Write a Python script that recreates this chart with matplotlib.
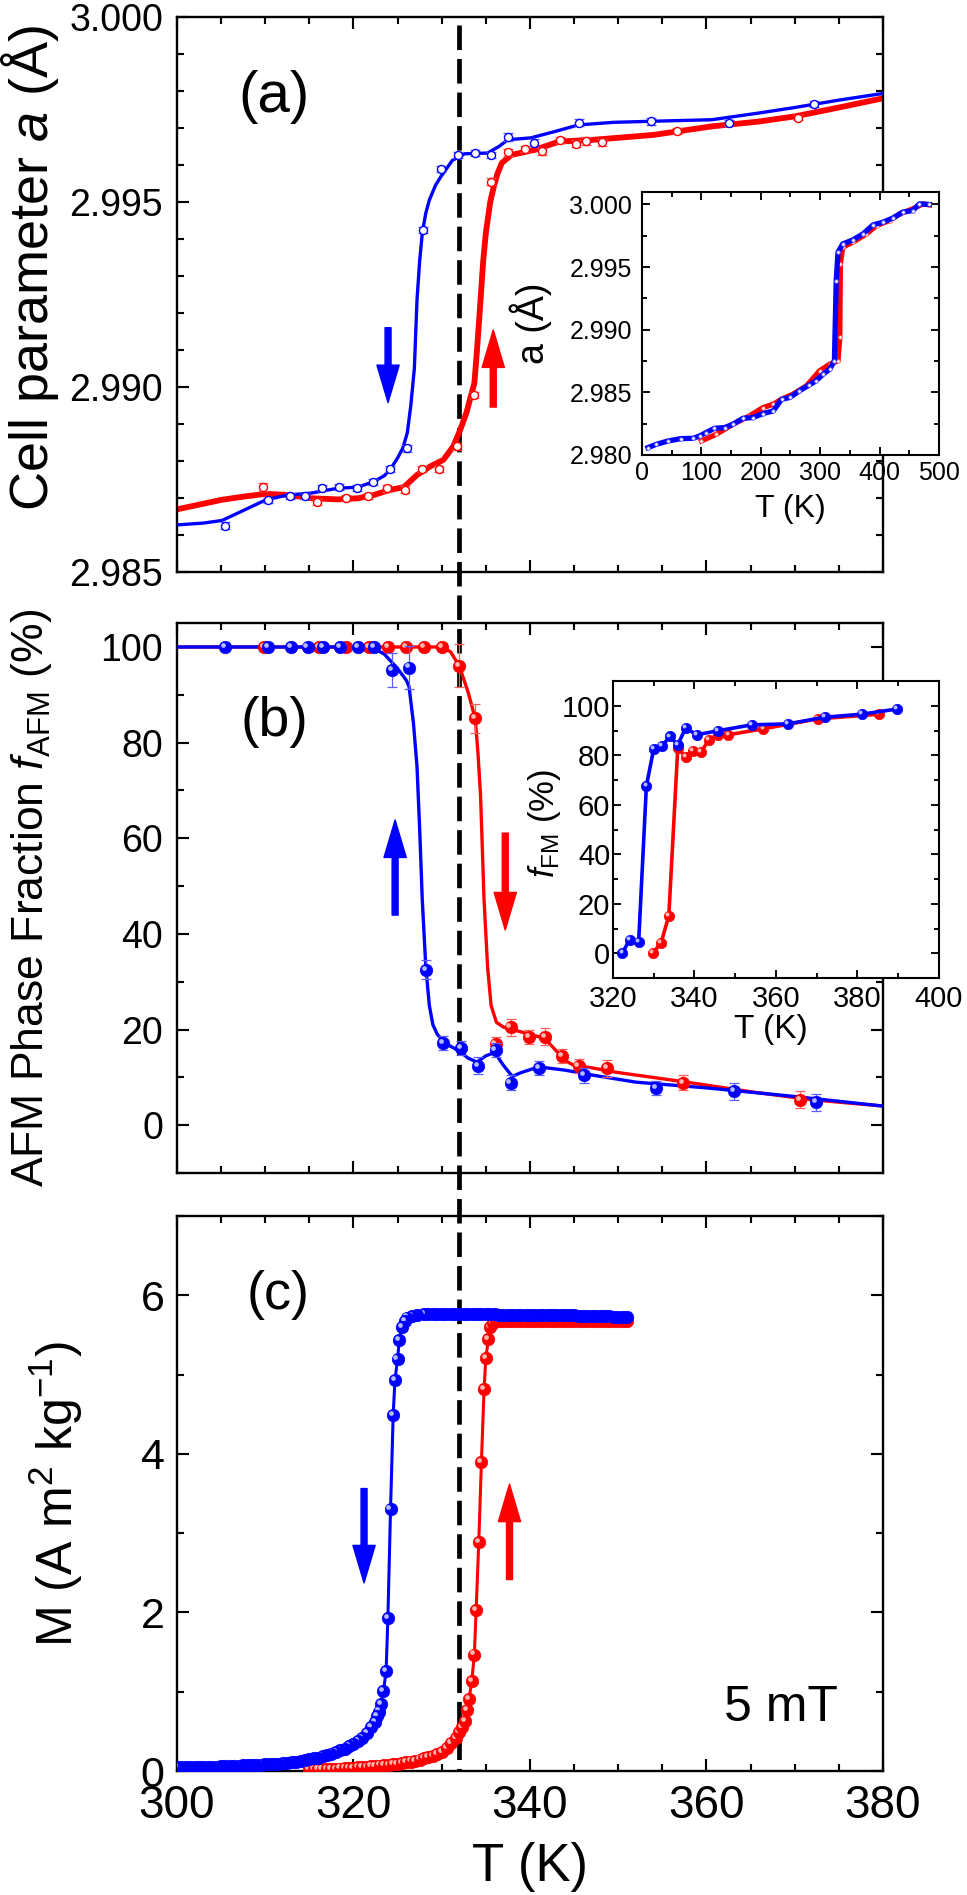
import matplotlib
matplotlib.use("Agg")
import matplotlib.pyplot as plt
import matplotlib.transforms as mtransforms
from matplotlib.lines import Line2D
from matplotlib.ticker import MultipleLocator, FormatStrFormatter

plt.rcParams['font.family'] = ['Liberation Sans', 'DejaVu Sans']
plt.rcParams['mathtext.fontset'] = 'custom'
plt.rcParams['mathtext.rm'] = 'Liberation Sans'
plt.rcParams['mathtext.it'] = 'Liberation Sans:italic'
plt.rcParams['mathtext.bf'] = 'Liberation Sans:bold'

# ------------------------------------------------------------------ data
# (a) cell parameter a (Angstrom), cooling (blue) / heating (red)
Ta_blue = [305.4, 310.3, 312.8, 314.5, 316.4, 318.4, 320.4, 322.2, 324.1, 326.1, 327.9,
           329.9, 331.9, 333.8, 335.6, 337.5, 340.5, 345.6, 353.7, 362.5, 372.2]
a_blue = [2.98625, 2.98693, 2.98705, 2.98705, 2.98726, 2.98729, 2.98726, 2.98744, 2.98778,
          2.98834, 2.99424, 2.99589, 2.99627, 2.99632, 2.99627, 2.99675, 2.99660, 2.99714,
          2.99718, 2.99714, 2.99764]
a_blue_err = [0.00009, 0.00008, 0.00008, 0.00008, 0.00008, 0.00008, 0.00008, 0.00008, 0.00009,
              0.00009, 0.00008, 0.00008, 0.00008, 0.00008, 0.00009, 0.00010, 0.00009, 0.00010,
              0.00009, 0.00008, 0.00008]
Ta_red = [309.8, 315.9, 319.2, 321.7, 323.8, 325.8, 327.8, 329.7, 331.7, 333.7, 335.6, 337.5,
          339.4, 341.4, 343.4, 345.2, 346.3, 348.2, 356.7, 370.4]
a_red = [2.98729, 2.98690, 2.98699, 2.98705, 2.98726, 2.98722, 2.98778, 2.98778, 2.98839,
         2.98978, 2.99555, 2.99634, 2.99642, 2.99637, 2.99668, 2.99657, 2.99665, 2.99661,
         2.99692, 2.99728]
a_red_err = [0.00010, 0.00008, 0.00008, 0.00008, 0.00009, 0.00009, 0.00009, 0.00009, 0.00009,
             0.00009, 0.00009, 0.00010, 0.00008, 0.00009, 0.00008, 0.00010, 0.00010, 0.00009,
             0.00009, 0.00008]
# smooth guide lines of panel (a)
Tfit_a_blue = [300, 303, 305.1, 307.7, 310.1, 312.6, 315.2, 318.2, 320.5, 322.3,
               323.5, 324.2, 325.0, 325.6, 326.1, 326.5, 326.9, 327.2, 327.5, 327.8,
               328.2, 328.6, 329.3, 329.9, 331.2, 332.6, 335.2, 336.5, 337.5, 340.1,
               342.8, 345.5, 349.5, 354.0, 360.6, 365.9, 370, 375, 380]
afit_a_blue = [2.98627, 2.98632, 2.98639, 2.98668, 2.98695, 2.98708, 2.98713, 2.98726, 2.98729, 2.98744,
               2.98760, 2.98778, 2.98808, 2.98835, 2.98876, 2.98950, 2.99050, 2.99235, 2.99340, 2.99416,
               2.99470, 2.99505, 2.99545, 2.99568, 2.99612, 2.99630, 2.99632, 2.99650, 2.99668, 2.99673,
               2.99690, 2.99708, 2.99715, 2.99718, 2.99722, 2.99740, 2.99755, 2.99775, 2.99793]
Tfit_a_red = [300, 305.1, 307.7, 310.1, 312.6, 315.2, 318.2, 320.5, 322.3, 324.2,
              325.7, 327.2, 328.7, 330.2, 331.3, 332.1, 332.8, 333.3, 333.7, 334.0,
              334.4, 334.7, 335.0, 335.5, 335.9, 336.3, 336.8, 337.9, 340.6, 343.3,
              347.3, 354.0, 360.6, 365.9, 370, 375, 380]
afit_a_red = [2.98669, 2.98695, 2.98704, 2.98711, 2.98708, 2.98699, 2.98696, 2.98699, 2.98708, 2.98722,
              2.98729, 2.98762, 2.98785, 2.98803, 2.98839, 2.98884, 2.98930, 2.98975, 2.99010, 2.99100,
              2.99235, 2.99340, 2.99416, 2.99500, 2.99541, 2.99575, 2.99605, 2.99627, 2.99641, 2.99663,
              2.99668, 2.99681, 2.99704, 2.99717, 2.99731, 2.99755, 2.99780]

# (a) inset: a(T) over 0-500 K
Tin_a_blue = [10, 24, 44, 66, 86, 97, 108, 122, 139, 153, 170, 187, 204, 221, 235, 249, 265,
              282, 293, 305, 316, 324, 327, 330, 338, 355, 372, 389, 406, 423, 439, 456, 467, 484]
ain_a_blue = [2.98059, 2.98085, 2.98112, 2.98131, 2.98133, 2.98152, 2.98179, 2.98213, 2.98219,
              2.98245, 2.98293, 2.98299, 2.98331, 2.98352, 2.98445, 2.98459, 2.98512, 2.98560,
              2.98592, 2.98645, 2.98685, 2.98752, 2.99392, 2.99619, 2.99685, 2.99717, 2.99765,
              2.99837, 2.99859, 2.99893, 2.99939, 2.99952, 3.00005, 3.00000]
Tin_a_red = [100, 125, 153, 181, 204, 221, 235, 254, 277, 299, 316, 330, 333, 334, 338, 355,
             378, 395, 417, 434, 456, 473, 484]
ain_a_red = [2.98112, 2.98165, 2.98245, 2.98312, 2.98379, 2.98405, 2.98445, 2.98485, 2.98552,
             2.98672, 2.98725, 2.98752, 2.98939, 2.99525, 2.99659, 2.99699, 2.99765, 2.99832,
             2.99872, 2.99925, 2.99965, 3.00005, 2.99997]

# (b) AFM phase fraction (%)
Tb_blue = [305.5, 310.3, 312.9, 314.8, 316.6, 318.5, 320.5, 322.3, 324.4, 326.3, 328.2,
           330.2, 332.2, 334.1, 336.1, 337.8, 341.0, 346.1, 354.3, 363.1, 372.4]
fb_blue = [100, 100, 100, 100, 100, 100, 100, 100, 95.2, 95.7, 32.5,
           17.2, 16.2, 12.4, 15.7, 8.9, 11.9, 10.4, 7.8, 7.1, 4.8]
fb_blue_err = [0.6, 0.6, 0.6, 0.6, 0.6, 0.6, 0.6, 0.6, 3.5, 4.5, 2.0,
               1.5, 1.5, 1.8, 1.5, 1.5, 1.5, 1.5, 1.5, 1.8, 1.8]
Tb_red = [309.9, 316.1, 319.2, 321.8, 323.9, 326.0, 328.0, 330.0, 332.0, 333.8,
          336.1, 337.8, 339.9, 341.7, 343.6, 345.5, 348.7, 357.3, 370.6]
fb_red = [100, 100, 100, 100, 100, 100, 100, 100, 96.1, 85.1,
          17.0, 20.5, 18.5, 18.5, 14.4, 12.4, 11.9, 8.9, 5.3]
fb_red_err = [0.6, 0.6, 0.6, 0.6, 0.6, 0.6, 0.6, 0.6, 4.5, 3.0,
              1.5, 1.8, 1.5, 1.8, 1.5, 1.5, 1.8, 1.5, 1.8]
Tfit_b_blue = [300, 310, 320, 322, 323.5, 325, 325.6, 326.0, 326.3, 326.8, 327.2, 327.5,
               327.8, 328.2, 328.6, 329.0, 329.5, 330.2, 331, 332, 333, 334, 335, 336,
               337, 338, 339, 341, 344, 347, 352, 360, 370, 380]
ffit_b_blue = [100, 100, 100, 100, 98.5, 95.5, 94, 93, 91.7, 84, 75, 62,
               47, 33, 25, 21, 19, 17.5, 16.5, 15.5, 14, 13.2, 14.5, 15.2,
               12.5, 10.2, 11.0, 12.2, 11.5, 10.5, 9, 7.8, 6, 4]
Tfit_b_red = [300, 320, 330, 331, 332, 333, 333.8, 334.1, 334.4, 334.8, 335.2, 335.6, 336.2,
              337, 338, 339, 340, 341, 342, 343, 344, 345, 347, 350, 357, 365, 372, 380]
ffit_b_red = [100, 100, 100, 99, 96, 90.5, 85, 78, 69, 47, 33, 25, 21.5,
              20.5, 20, 19.5, 19, 18.5, 17.5, 15.5, 13.5, 12.5, 12, 11, 9.2, 7, 5.3, 4]

# (b) inset: FM fraction (%)
Tin_b_blue = [322.3, 324.1, 326.3, 328.2, 330.0, 332.0, 334.0, 335.9, 337.8, 340.6, 345.7,
              354.0, 362.9, 372.0, 381.0, 389.7]
fin_b_blue = [0.1, 5.5, 4.6, 67.7, 82.6, 83.8, 87.6, 84.2, 91.0, 88.3, 89.9,
              92.3, 92.7, 95.4, 96.6, 98.7]
Tin_b_red = [329.8, 331.8, 333.7, 335.9, 337.8, 339.6, 341.6, 343.5, 345.7, 348.3, 356.9,
             370.2, 385.2]
fin_b_red = [0.1, 4.2, 15.1, 82.9, 79.5, 81.8, 81.3, 86.2, 88.3, 88.3, 90.7, 94.7, 96.6]

# (c) magnetisation M (A m2 kg-1) at 5 mT; blue = cooling, red = heating
Tc_blue = [300, 300.5, 301, 301.5, 302, 302.5, 303, 303.5, 304, 304.5,
           305, 305.5, 306, 306.5, 307, 307.5, 308, 308.5, 309, 309.5,
           310, 310.5, 311, 311.5, 312, 312.5, 313, 313.5, 314, 314.5,
           315, 315.5, 316, 316.5, 317, 317.5, 318, 318.5, 319, 319.5,
           320, 320.5, 321,
           321.5, 322, 322.4, 322.7, 322.9, 323.1, 323.4, 323.7, 323.9, 324.2,
           324.5, 324.7, 325.0, 325.2, 325.5, 325.8, 326.1, 326.6, 327.2, 328,
           328.5, 329, 329.5, 330, 330.5, 331, 331.5, 332, 332.5, 333,
           333.5, 334, 334.5, 335, 335.5, 336, 336.5, 337, 337.5, 338,
           338.5, 339, 339.5, 340, 340.5, 341, 341.5, 342, 342.5, 343,
           343.5, 344, 344.5, 345, 345.5, 346, 346.5, 347, 347.5, 348,
           348.5, 349, 349.5, 350, 350.5, 351]
Mc_blue = [0.05, 0.05, 0.05, 0.05, 0.05, 0.05, 0.05, 0.052, 0.055, 0.057,
           0.06, 0.062, 0.065, 0.067, 0.07, 0.072, 0.075, 0.077, 0.08, 0.082,
           0.085, 0.087, 0.09, 0.095, 0.10, 0.105, 0.11, 0.12, 0.13, 0.14,
           0.15, 0.16, 0.17, 0.185, 0.20, 0.22, 0.24, 0.26, 0.28, 0.31,
           0.34, 0.38, 0.42,
           0.48, 0.55, 0.62, 0.69, 0.75, 0.85, 1.01, 1.26, 1.93, 3.30,
           4.49, 4.93, 5.20, 5.44, 5.60, 5.68, 5.72, 5.74, 5.75, 5.76,
           5.76, 5.76, 5.76, 5.76, 5.76, 5.76, 5.76, 5.76, 5.76, 5.76,
           5.76, 5.76, 5.76, 5.76, 5.76, 5.76, 5.75, 5.75, 5.75, 5.75,
           5.75, 5.75, 5.75, 5.75, 5.75, 5.75, 5.75, 5.75, 5.75, 5.75,
           5.75, 5.75, 5.75, 5.75, 5.74, 5.74, 5.74, 5.74, 5.74, 5.74,
           5.74, 5.74, 5.73, 5.73, 5.73, 5.73]
Tc_red = [315, 315.5, 316, 316.5, 317, 317.5, 318, 318.5, 319, 319.5,
          320, 320.5, 321, 321.5, 322, 322.5, 323, 323.5, 324, 324.5,
          325, 325.5, 326, 326.5, 327, 327.5, 328, 328.5, 329, 329.5, 330,
          330.6, 331.1, 331.6, 332.0, 332.3, 332.6, 332.9, 333.1, 333.4, 333.7,
          333.9, 334.2, 334.5, 334.8, 335.0, 335.3, 335.5, 335.8, 336.2,
          336.5, 337, 337.5, 338, 338.5, 339, 339.5, 340, 340.5, 341,
          341.5, 342, 342.5, 343, 343.5, 344, 344.5, 345, 345.5, 346,
          346.5, 347, 347.5, 348, 348.5, 349, 349.5, 350, 350.5, 351]
Mc_red = [0.02, 0.022, 0.025, 0.027, 0.03, 0.03, 0.03, 0.032, 0.035, 0.037,
          0.04, 0.045, 0.05, 0.055, 0.06, 0.065, 0.07, 0.075, 0.08, 0.085,
          0.09, 0.10, 0.11, 0.12, 0.13, 0.145, 0.16, 0.175, 0.19, 0.215, 0.24,
          0.29, 0.35, 0.42, 0.49, 0.56, 0.63, 0.77, 0.91, 1.13, 1.47,
          2.03, 2.89, 3.90, 4.82, 5.21, 5.45, 5.60, 5.65, 5.67,
          5.67, 5.67, 5.67, 5.67, 5.67, 5.67, 5.67, 5.67, 5.67, 5.67,
          5.67, 5.67, 5.67, 5.67, 5.67, 5.67, 5.67, 5.67, 5.67, 5.67,
          5.67, 5.67, 5.67, 5.67, 5.67, 5.67, 5.67, 5.67, 5.67, 5.67]

T_transition = 332  # vertical dashed guide

BLUE = '#0000ff'
RED = '#ff0000'
BLUE_L = '#5c5cff'
RED_L = '#ff5c5c'
BLUE_HI = '#b4bcff'
RED_HI = '#ffb8b0'

# ------------------------------------------------------------------ figure
fig = plt.figure(figsize=(9.67, 18.95), dpi=100)
L, W = 0.1830, 0.7301
ax_a = fig.add_axes([L, 0.6982, W, 0.2929])
ax_b = fig.add_axes([L, 0.3810, W, 0.2902])
ax_c = fig.add_axes([L, 0.0654, W, 0.2929])
ins_a = fig.add_axes([0.6639, 0.7599, 0.3071, 0.1388])
ins_b = fig.add_axes([0.6339, 0.4839, 0.3371, 0.1567])
for ax in (ax_a, ax_b, ax_c):
    ax.patch.set_alpha(0)   # let the dashed guide line run behind the data


def style(ax, lw, maj, mnr, xsize, ysize, xpad, ypad):
    for s in ax.spines.values():
        s.set_linewidth(lw)
    ax.tick_params(which='both', direction='in', top=True, right=True, width=lw * 0.9)
    ax.tick_params(which='major', length=maj)
    ax.tick_params(which='minor', length=mnr)
    ax.tick_params(axis='x', labelsize=xsize, pad=xpad)
    ax.tick_params(axis='y', labelsize=ysize, pad=ypad)


def balls(ax, x, y, color, light, ms, z=4, reverse=False):
    """shaded sphere markers, drawn one after another so later ones cover earlier ones"""
    tr = mtransforms.offset_copy(ax.transData, fig=ax.figure, x=-0.17 * ms, y=0.17 * ms,
                                 units='points')
    pts = list(zip(x, y))
    if reverse:
        pts = pts[::-1]
    for xi, yi in pts:
        ax.plot([xi], [yi], ls='none', marker='o', ms=ms, mfc=color, mec=color, mew=0.5, zorder=z)
        ax.plot([xi], [yi], ls='none', marker='o', ms=0.38 * ms, mfc=light, mec='none',
                transform=tr, zorder=z)


def arrow(ax, x, y_tail, y_head, color):
    ax.annotate('', xy=(x, y_head), xytext=(x, y_tail), xycoords='axes fraction',
                textcoords='axes fraction',
                arrowprops=dict(color=color, width=4.3, headwidth=16, headlength=27, shrink=0))


# ---------------- panel (a)
ax = ax_a
ax.plot(Tfit_a_red, afit_a_red, color=RED, lw=4.2, zorder=2)
ax.plot(Tfit_a_blue, afit_a_blue, color=BLUE, lw=2.4, zorder=3)
ax.errorbar(Ta_red, a_red, yerr=a_red_err, fmt='o', ms=5.8, mfc='white', mec=RED, mew=1.0,
            ecolor=RED_L, elinewidth=0.9, capsize=3.5, capthick=0.9, zorder=4)
ax.errorbar(Ta_blue, a_blue, yerr=a_blue_err, fmt='o', ms=5.8, mfc='white', mec=BLUE, mew=1.0,
            ecolor=BLUE_L, elinewidth=0.9, capsize=3.5, capthick=0.9, zorder=5)
ax.set_xlim(300, 380)
ax.set_ylim(2.985, 3.000)
ax.xaxis.set_major_locator(MultipleLocator(20))
ax.xaxis.set_minor_locator(MultipleLocator(5))
ax.yaxis.set_major_locator(MultipleLocator(0.005))
ax.yaxis.set_minor_locator(MultipleLocator(0.001))
ax.yaxis.set_major_formatter(FormatStrFormatter('%.3f'))
style(ax, 1.7, 8.5, 5, 27, 27, 9, 10)
ax.tick_params(labelbottom=False)
ax.set_ylabel(r'Cell parameter $a$ (Å)', fontsize=39, va='center')
ax.yaxis.set_label_coords(-0.208, 0.548)
ax.text(0.137, 0.856, '(a)', transform=ax.transAxes, fontsize=42, ha='center', va='center')
arrow(ax, 0.299, 0.440, 0.305, BLUE)
arrow(ax, 0.448, 0.297, 0.436, RED)

# inset (a)
ax = ins_a
ax.set_facecolor('white')
ax.plot(Tin_a_red, ain_a_red, color=RED, lw=3.8, zorder=2)
ax.plot(Tin_a_red, ain_a_red, ls='none', marker='o', ms=2.6, mfc='white', mec=RED_L,
        mew=0.6, zorder=3)
ax.plot(Tin_a_blue, ain_a_blue, color=BLUE, lw=3.8, zorder=4)
ax.plot(Tin_a_blue, ain_a_blue, ls='none', marker='o', ms=2.6, mfc='white', mec=BLUE_L,
        mew=0.6, zorder=5)
ax.set_xlim(0, 500)
ax.set_ylim(2.980, 3.001)
ax.xaxis.set_major_locator(MultipleLocator(100))
ax.xaxis.set_minor_locator(MultipleLocator(50))
ax.yaxis.set_major_locator(MultipleLocator(0.005))
ax.yaxis.set_minor_locator(MultipleLocator(0.0025))
ax.yaxis.set_major_formatter(FormatStrFormatter('%.3f'))
style(ax, 1.5, 6, 3.5, 18, 18, 4, 7)
ax.set_ylabel('a (Å)', fontsize=27, va='center')
ax.yaxis.set_label_coords(-0.374, 0.5)
ax.set_xlabel('T (K)', fontsize=23, va='center')
ax.xaxis.set_label_coords(0.5, -0.205)

# ---------------- panel (b)
ax = ax_b
ax.plot(Tfit_b_red, ffit_b_red, color=RED, lw=2.4, zorder=2)
ax.plot(Tfit_b_blue, ffit_b_blue, color=BLUE, lw=2.4, zorder=3)
ax.errorbar(Tb_red, fb_red, yerr=fb_red_err, fmt='none', ecolor=RED_L, elinewidth=0.9,
            capsize=3.5, capthick=0.9, zorder=3)
balls(ax, Tb_red, fb_red, RED, RED_HI, 9, z=4)
ax.errorbar(Tb_blue, fb_blue, yerr=fb_blue_err, fmt='none', ecolor=BLUE_L, elinewidth=0.9,
            capsize=3.5, capthick=0.9, zorder=5)
balls(ax, Tb_blue, fb_blue, BLUE, BLUE_HI, 9, z=6)
ax.set_xlim(300, 380)
ax.set_ylim(-10, 105)
ax.xaxis.set_major_locator(MultipleLocator(20))
ax.xaxis.set_minor_locator(MultipleLocator(5))
ax.yaxis.set_major_locator(MultipleLocator(20))
ax.yaxis.set_minor_locator(MultipleLocator(10))
style(ax, 1.7, 8.5, 5, 27, 27, 9, 10)
ax.tick_params(labelbottom=False)
ax.set_ylabel(r'AFM Phase Fraction $f_{\mathrm{AFM}}$ (%)', fontsize=32, va='center')
ax.yaxis.set_label_coords(-0.206, 0.5)
ax.text(0.138, 0.821, '(b)', transform=ax.transAxes, fontsize=40, ha='center', va='center')
arrow(ax, 0.309, 0.469, 0.642, BLUE)
arrow(ax, 0.465, 0.618, 0.442, RED)

# inset (b)
ax = ins_b
ax.set_facecolor('white')
ax.plot(Tin_b_red, fin_b_red, color=RED, lw=2.6, zorder=2)
balls(ax, Tin_b_red, fin_b_red, RED, RED_HI, 7.5, z=3)
ax.plot(Tin_b_blue, fin_b_blue, color=BLUE, lw=2.6, zorder=4)
balls(ax, Tin_b_blue, fin_b_blue, BLUE, BLUE_HI, 7.5, z=5)
ax.set_xlim(320, 400)
ax.set_ylim(-10, 110)
ax.xaxis.set_major_locator(MultipleLocator(20))
ax.xaxis.set_minor_locator(MultipleLocator(10))
ax.yaxis.set_major_locator(MultipleLocator(20))
ax.yaxis.set_minor_locator(MultipleLocator(10))
style(ax, 1.5, 6, 3.5, 21, 21, 5, 2)
ax.set_ylabel(r'$f_{\mathrm{FM}}$ (%)', fontsize=25, va='center')
ax.yaxis.set_label_coords(-0.209, 0.522)
ax.set_xlabel('T (K)', fontsize=24, va='center')
ax.xaxis.set_label_coords(0.485, -0.175)

# ---------------- panel (c)
ax = ax_c
ax.plot(Tc_red, Mc_red, color=RED, lw=2.2, zorder=2)
balls(ax, Tc_red, Mc_red, RED, RED_HI, 9, z=3)
ax.plot(Tc_blue, Mc_blue, color=BLUE, lw=2.2, zorder=4)
balls(ax, Tc_blue, Mc_blue, BLUE, BLUE_HI, 9, z=5, reverse=True)
ax.set_xlim(300, 380)
ax.set_ylim(0, 7)
ax.xaxis.set_major_locator(MultipleLocator(20))
ax.xaxis.set_minor_locator(MultipleLocator(5))
ax.yaxis.set_major_locator(MultipleLocator(2))
ax.yaxis.set_minor_locator(MultipleLocator(1))
style(ax, 1.7, 8.5, 5, 33, 31, 9, 9)
ax.set_ylabel(r'M (A m$^2$ kg$^{-1}$)', fontsize=36, va='center')
ax.yaxis.set_label_coords(-0.172, 0.5)
ax.set_xlabel('T (K)', fontsize=38, va='center')
ax.xaxis.set_label_coords(0.5, -0.173)
ax.text(0.143, 0.858, '(c)', transform=ax.transAxes, fontsize=39, ha='center', va='center')
ax.text(0.855, 0.114, '5 mT', transform=ax.transAxes, fontsize=36, ha='center', va='center')
arrow(ax, 0.265, 0.509, 0.339, BLUE)
arrow(ax, 0.471, 0.345, 0.517, RED)

# dashed line running through all three panels (behind the data)
blend = mtransforms.blended_transform_factory(ax_c.transData, fig.transFigure)
fig.add_artist(Line2D([T_transition, T_transition], [0.987, 0.0654], transform=blend,
                      color='black', lw=3.4, ls=(0, (5.2, 1.9)), zorder=-1))

fig.savefig('out.png', dpi=100)
